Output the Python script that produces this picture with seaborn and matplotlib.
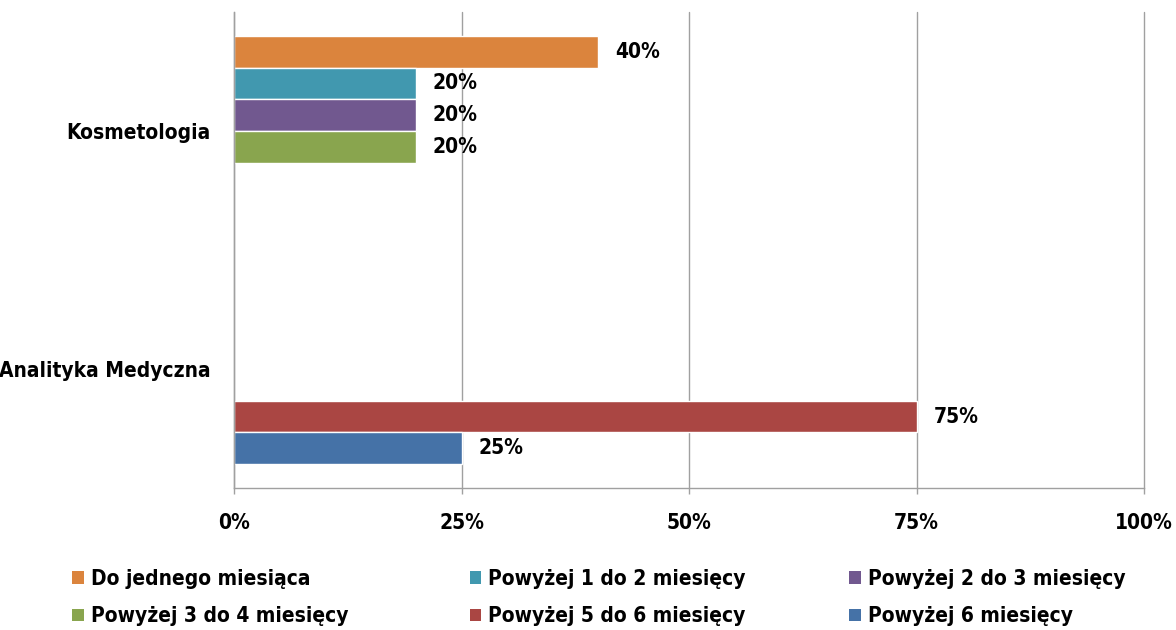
import pandas as pd
import seaborn as sns
import matplotlib.pyplot as plt
from matplotlib.patches import Patch

# dane z wykresu
kierunki = ['Kosmetologia', 'Analityka Medyczna']
okresy = ['Do jednego miesiąca', 'Powyżej 1 do 2 miesięcy', 'Powyżej 2 do 3 miesięcy',
          'Powyżej 3 do 4 miesięcy', 'Powyżej 5 do 6 miesięcy', 'Powyżej 6 miesięcy']
kosmetologia = [40, 20, 20, 20, None, None]
analityka = [None, None, None, None, 75, 25]
kolory = ['#DB843D', '#4198AF', '#71588F', '#89A54E', '#AA4643', '#4572A7']
xticks = [0, 25, 50, 75, 100]

rows = []
for kier, vals in zip(kierunki, [kosmetologia, analityka]):
    for okres, v in zip(okresy, vals):
        if v is not None:
            rows.append({'kierunek': kier, 'okres': okres, 'procent': v})
df = pd.DataFrame(rows)

sns.set_style('white')
plt.rcParams['font.family'] = ['DejaVu Sans']
plt.rcParams['font.stretch'] = 'condensed'
plt.rcParams['font.weight'] = 'bold'
plt.rcParams['text.color'] = 'black'
plt.rcParams['xtick.color'] = 'black'
plt.rcParams['ytick.color'] = 'black'
FS = 15
GRAY = '#A0A0A0'

fig = plt.figure(figsize=(11.76, 6.3), dpi=100)
ax = fig.add_axes([0.199, 0.2254, 0.774, 0.7556])

sns.barplot(data=df, x='procent', y='kierunek', hue='okres', order=kierunki,
            hue_order=okresy, palette=kolory, saturation=1, orient='h', errorbar=None,
            edgecolor='white', linewidth=1, legend=False, ax=ax)

for c in ax.containers:
    labs = ['' if pd.isna(v) or v == 0 else f'{v:.0f}%' for v in c.datavalues]
    ax.bar_label(c, labels=labs, padding=12, fontsize=FS, fontweight='bold', color='black')

ax.set_xlim(0, 100)
ax.set_ylim(1.5, -0.5)
ax.set_xticks(xticks)
ax.set_xticklabels([f'{t}%' for t in xticks], fontsize=FS, fontweight='bold')
ax.set_yticks([0, 1])
ax.set_yticklabels(kierunki, fontsize=FS, fontweight='bold')
ax.set_yticks([-0.5, 0.5, 1.5], minor=True)
ax.tick_params(axis='y', which='major', length=0, pad=17, colors='black')
ax.tick_params(axis='y', which='minor', length=4, color=GRAY, width=1)
ax.tick_params(axis='x', length=4, color=GRAY, labelcolor='black', width=1, pad=14, bottom=True)
ax.set_xlabel('')
ax.set_ylabel('')
ax.xaxis.grid(True, color=GRAY, linewidth=1)
for gl in ax.get_xgridlines():
    gl.set_clip_on(False)
ax.set_axisbelow(True)
for s in ['top', 'right']:
    ax.spines[s].set_visible(False)
for s in ['left', 'bottom']:
    ax.spines[s].set_color(GRAY)
    ax.spines[s].set_linewidth(1)

# legenda: trzy kolumny ustawione osobno
handles = [Patch(facecolor=k, edgecolor='none', label=o) for o, k in zip(okresy, kolory)]
col_x = [0.056, 0.394, 0.717]
for j, x0 in enumerate(col_x):
    idx = [j, j + 3]
    fig.legend([handles[i] for i in idx], [okresy[i] for i in idx],
               loc='lower left', bbox_to_anchor=(x0, -0.004), ncol=1, frameon=False,
               fontsize=FS, handlelength=0.55, handleheight=0.55, handletextpad=0.35,
               labelspacing=0.84, borderpad=0.1, borderaxespad=0.2)

fig.savefig('out.png', dpi=100)
